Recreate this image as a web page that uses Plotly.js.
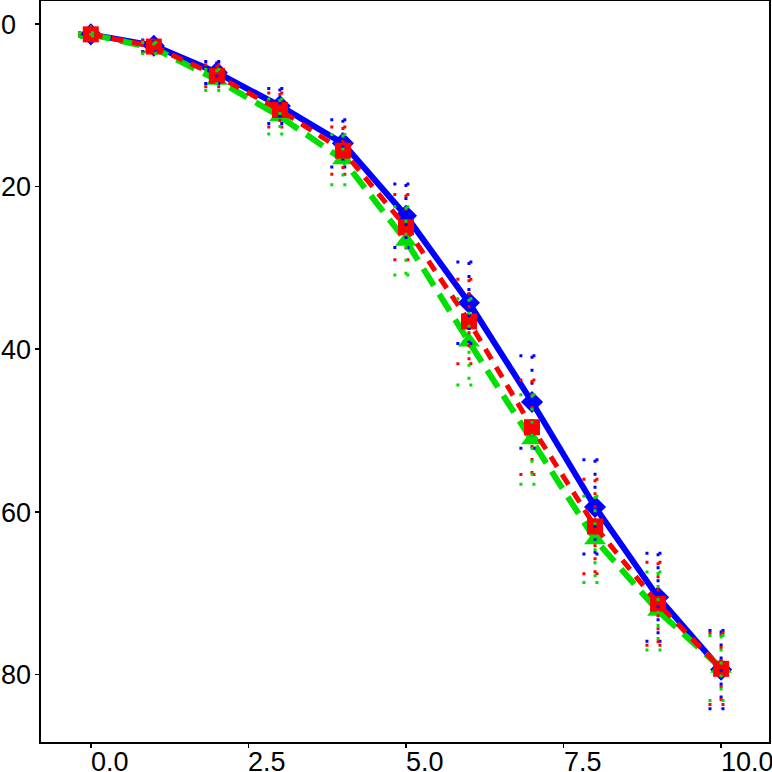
<!DOCTYPE html>
<html>
<head>
<meta charset="utf-8">
<script src="https://cdn.plot.ly/plotly-3.0.1.min.js"></script>
<style>
  html, body { margin: 0; padding: 0; background: #ffffff; }
  #chart { width: 772px; height: 772px; }
</style>
</head>
<body>
<div id="chart"></div>
<script>
// values
const xVals = [0, 1, 2, 3, 4, 5, 6, 7, 8, 9, 10];

const blueY = [1.3, 2.7, 6.0, 10.1, 14.7, 23.6, 34.3, 46.5, 59.4, 70.5, 79.4];
const blueErr = [0.2, 0.7, 1.35, 2.15, 2.9, 3.9, 5.0, 5.7, 5.8, 5.4, 4.8];

const redY = [1.3, 2.8, 6.4, 10.6, 15.6, 25.0, 36.6, 49.6, 61.8, 71.3, 79.3];
const redErr = [0.2, 0.7, 1.35, 2.1, 2.9, 4.0, 5.2, 5.8, 5.8, 5.1, 4.4];

const greenY = [1.3, 3.0, 6.9, 11.4, 16.7, 26.7, 39.1, 51.1, 63.4, 72.2, 79.2];
const greenErr = [0.2, 0.7, 1.3, 2.15, 3.1, 4.2, 5.3, 5.5, 5.3, 4.8, 4.0];

const xTicks = [0, 2.5, 5, 7.5, 10];
const xTickText = ['0.0', '2.5', '5.0', '7.5', '10.0'];
const yTicks = [0, 20, 40, 60, 80];
const yTickText = ['0', '20', '40', '60', '80'];

const FONT = 'Liberation Sans, Arial, sans-serif';
const CAP = 0.2; // half width of the error bar caps, in x units

// dotted error bars: stems and caps as broken line segments
function errorTrace(ys, errs, color) {
  const ex = [], ey = [];
  xVals.forEach((x, i) => {
    const lo = ys[i] - errs[i], hi = ys[i] + errs[i];
    ex.push(x, x, null, x - CAP, x + CAP, null, x - CAP, x + CAP, null);
    ey.push(lo, hi, null, lo, lo, null, hi, hi, null);
  });
  return {
    x: ex, y: ey,
    mode: 'lines',
    connectgaps: false,
    line: { color: color, width: 3, dash: '3px,10px' },
    hoverinfo: 'skip',
    showlegend: false
  };
}

const traces = [
  {
    x: xVals, y: blueY, mode: 'lines+markers',
    line: { color: '#0000FF', width: 6 },
    marker: { symbol: 'diamond', size: 17, color: '#0000FF' },
    showlegend: false
  },
  {
    x: xVals, y: greenY, mode: 'lines+markers',
    line: { color: '#00E000', width: 6, dash: '20px,10px' },
    marker: { symbol: 'triangle-up', size: 19, color: '#00E000' },
    showlegend: false
  },
  {
    x: xVals, y: redY, mode: 'lines+markers',
    line: { color: '#FF0000', width: 5, dash: '12px,9px' },
    marker: { symbol: 'square', size: 16, color: '#FF0000' },
    showlegend: false
  },
  errorTrace(blueY, blueErr, '#0000FF'),
  errorTrace(redY, redErr, '#FF0000'),
  errorTrace(greenY, greenErr, '#00E000')
];

const labelFont = { family: FONT, size: 27, color: '#000000' };

// tick labels in the reference are left-justified, so they are drawn as annotations
const xLabels = xTicks.map((v, i) => ({
  x: v, xref: 'x',
  y: 0, yref: 'paper',
  xanchor: 'left', yanchor: 'top',
  yshift: -3, xshift: -2,
  text: xTickText[i],
  showarrow: false,
  font: labelFont
}));

const yLabels = yTicks.map((v, i) => ({
  x: 0, xref: 'paper',
  y: v, yref: 'y',
  xanchor: 'left', yanchor: 'middle',
  xshift: -42, yshift: -1,
  text: yTickText[i],
  showarrow: false,
  font: labelFont
}));

const layout = {
  width: 772,
  height: 772,
  margin: { l: 41, r: 3, t: 1, b: 30 },
  paper_bgcolor: '#ffffff',
  plot_bgcolor: '#ffffff',
  showlegend: false,
  font: labelFont,
  xaxis: {
    range: [-0.79, 10.76],
    tickvals: xTicks,
    showticklabels: false,
    ticks: 'outside',
    ticklen: 4,
    tickwidth: 1.5,
    tickcolor: '#000000',
    showgrid: false,
    zeroline: false,
    showline: true,
    mirror: true,
    linecolor: '#000000',
    linewidth: 2
  },
  yaxis: {
    range: [88.3, -2.8],
    tickvals: yTicks,
    showticklabels: false,
    ticks: 'outside',
    ticklen: 4,
    tickwidth: 1.5,
    tickcolor: '#000000',
    showgrid: false,
    zeroline: false,
    showline: true,
    mirror: true,
    linecolor: '#000000',
    linewidth: 2
  },
  annotations: xLabels.concat(yLabels)
};

Plotly.newPlot('chart', traces, layout, { displayModeBar: false, staticPlot: true });
</script>
</body>
</html>
